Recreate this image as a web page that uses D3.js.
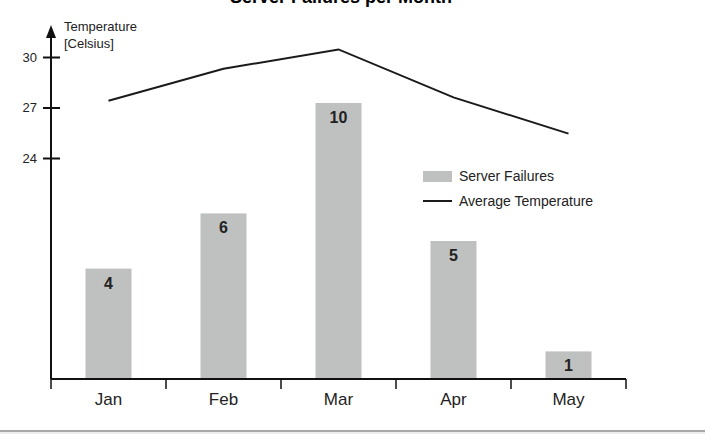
<!DOCTYPE html>
<html>
<head>
<meta charset="utf-8">
<script src="https://cdn.jsdelivr.net/npm/d3@7"></script>
<style>
  body { margin: 0; background: #fff; }
  svg { display: block; font-family: "Liberation Sans", Arial, sans-serif; }
</style>
</head>
<body>
<script>
const months = ["Jan", "Feb", "Mar", "Apr", "May"];
const failures = [4, 6, 10, 5, 1];
const avgTemp = [27.4, 29.3, 30.45, 27.6, 25.45];
const tempTicks = [24, 27, 30];

const width = 705, height = 434;
const x0 = 51, x1 = 626, baseY = 379;
const barColor = "#bfc0c0";

const svg = d3.select("body").append("svg")
  .attr("width", width)
  .attr("height", height);

const x = d3.scaleBand().domain(months).range([x0, x1]);
const yBar = d3.scaleLinear().domain([0, 10]).range([baseY, 103]);
const yTemp = d3.scaleLinear().domain([24, 30]).range([158, 57]);

// title (cut off at the top, as in the original)
svg.append("text")
  .attr("x", 341).attr("y", 3)
  .attr("text-anchor", "middle")
  .attr("font-size", 18).attr("font-weight", "bold")
  .text("Server Failures per Month");

// bars
const bw = x.bandwidth() * 0.4;
svg.append("g").selectAll("rect")
  .data(failures)
  .join("rect")
  .attr("x", (d, i) => x(months[i]) + (x.bandwidth() - bw) / 2)
  .attr("y", d => yBar(d))
  .attr("width", bw)
  .attr("height", d => baseY - yBar(d))
  .attr("fill", barColor);

svg.append("g").selectAll("text")
  .data(failures)
  .join("text")
  .attr("x", (d, i) => x(months[i]) + x.bandwidth() / 2)
  .attr("y", d => Math.min(yBar(d) + 20, baseY - 4))
  .attr("text-anchor", "middle")
  .attr("font-size", 16).attr("font-weight", "bold")
  .attr("fill", "#222")
  .text(d => d);

// temperature line
const line = d3.line()
  .x((d, i) => x(months[i]) + x.bandwidth() / 2)
  .y(d => yTemp(d));
svg.append("path")
  .datum(avgTemp)
  .attr("d", line)
  .attr("fill", "none")
  .attr("stroke", "#1a1a1a")
  .attr("stroke-width", 2);

// y axis with arrow
svg.append("line")
  .attr("x1", x0).attr("x2", x0)
  .attr("y1", baseY).attr("y2", 34)
  .attr("stroke", "#111").attr("stroke-width", 2);
svg.append("path")
  .attr("d", `M${x0},25 L${x0 - 5},38 L${x0 + 5},38 Z`)
  .attr("fill", "#111");

const yAxis = d3.axisLeft(yTemp).tickValues(tempTicks)
  .tickFormat(d3.format("d")).tickSize(0).tickPadding(14);
const gy = svg.append("g").attr("transform", `translate(${x0},0)`).call(yAxis);
gy.select(".domain").remove();
gy.selectAll(".tick line")
  .attr("x1", -8).attr("x2", 9)
  .attr("stroke", "#111").attr("stroke-width", 2);
gy.selectAll(".tick text")
  .attr("font-size", 13).attr("fill", "#222")
  .attr("font-family", "Liberation Sans, Arial, sans-serif");

svg.append("text")
  .attr("x", 64).attr("y", 31)
  .attr("font-size", 13).attr("fill", "#222")
  .text("Temperature");
svg.append("text")
  .attr("x", 64).attr("y", 48)
  .attr("font-size", 13).attr("fill", "#222")
  .text("[Celsius]");

// x axis
svg.append("line")
  .attr("x1", x0).attr("x2", x1)
  .attr("y1", baseY).attr("y2", baseY)
  .attr("stroke", "#111").attr("stroke-width", 2);

const bounds = months.map(m => x(m)).concat([x1]);
svg.append("g").selectAll("line")
  .data(bounds)
  .join("line")
  .attr("x1", d => d).attr("x2", d => d)
  .attr("y1", baseY).attr("y2", baseY + 10)
  .attr("stroke", "#111").attr("stroke-width", 1.5);

svg.append("g").selectAll("text")
  .data(months)
  .join("text")
  .attr("x", d => x(d) + x.bandwidth() / 2)
  .attr("y", 405)
  .attr("text-anchor", "middle")
  .attr("font-size", 17).attr("fill", "#222")
  .text(d => d);

// legend
const lg = svg.append("g").attr("transform", "translate(423,0)");
lg.append("rect")
  .attr("x", 0).attr("y", 171).attr("width", 29).attr("height", 11)
  .attr("fill", barColor);
lg.append("text")
  .attr("x", 36).attr("y", 181)
  .attr("font-size", 14).attr("fill", "#222")
  .text("Server Failures");
lg.append("line")
  .attr("x1", 0).attr("x2", 29).attr("y1", 201).attr("y2", 201)
  .attr("stroke", "#1a1a1a").attr("stroke-width", 2);
lg.append("text")
  .attr("x", 36).attr("y", 206)
  .attr("font-size", 14).attr("fill", "#222")
  .text("Average Temperature");

// bottom rule
svg.append("rect")
  .attr("x", 0).attr("y", 430).attr("width", width).attr("height", 2)
  .attr("fill", "#a8a8a8");
svg.append("rect")
  .attr("x", 0).attr("y", 432).attr("width", width).attr("height", 2)
  .attr("fill", "#ededed");
</script>
</body>
</html>
